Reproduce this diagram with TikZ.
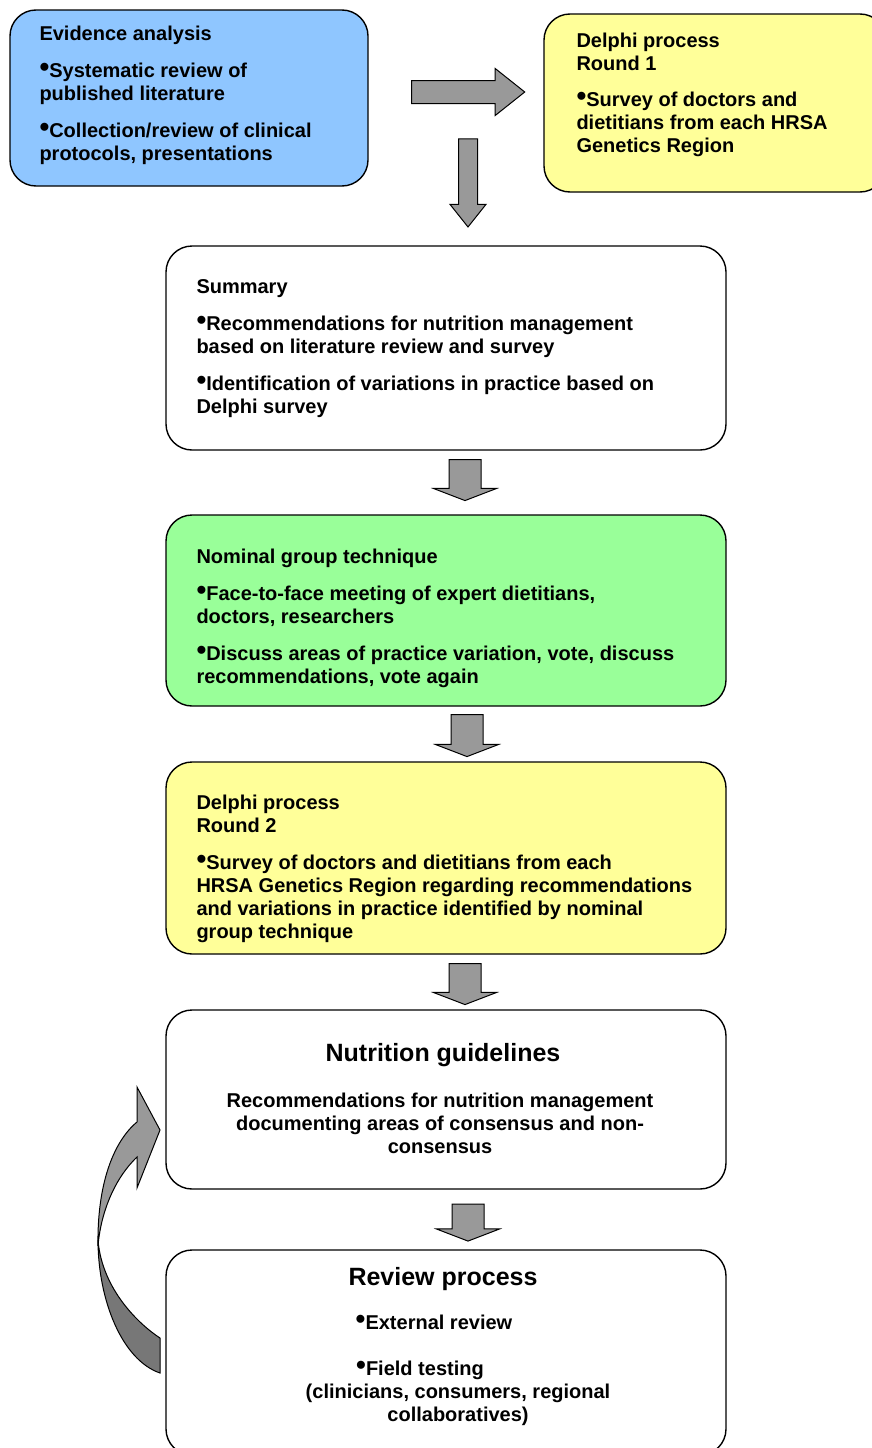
\documentclass[tikz,border=0pt]{standalone}
\usepackage{fontspec}
\setmainfont{Liberation Sans}
\usetikzlibrary{positioning,shapes.arrows}

\definecolor{evblue}{RGB}{143,198,255}
\definecolor{delyellow}{RGB}{255,255,153}
\definecolor{nomgreen}{RGB}{153,255,153}
\definecolor{arrgray}{RGB}{153,153,153}
\definecolor{backgray}{RGB}{119,119,119}

\newcommand{\bul}{\raisebox{1pt}{\fontsize{28}{23}\selectfont•}}

\tikzset{
    box/.style={draw=black, line width=1.4pt, rounded corners=26pt, inner sep=0pt},
    txt/.style={anchor=north west, align=left, inner sep=0pt, font=\bfseries\fontsize{20}{23}\selectfont},
    ctxt/.style={anchor=north, align=center, inner sep=0pt, font=\bfseries\fontsize{20}{23}\selectfont},
    ttl/.style={anchor=north, inner sep=0pt, font=\bfseries\fontsize{25}{28}\selectfont},
    blk/.style={single arrow, draw=black, fill=arrgray, line width=1pt, inner xsep=0pt, single arrow head indent=0pt},
    blkdown/.style={blk, rotate=-90, inner ysep=15.5pt, single arrow head extend=15.5pt, single arrow tip angle=138},
}

\begin{document}
\begin{tikzpicture}[x=1pt, y=-1pt]

    % Page frame
    \useasboundingbox (0,0) rectangle (872,1448);

    % Boxes
    \node[box, fill=evblue, minimum width=358pt, minimum height=176pt] (evid) at (189,98) {};
    \node[box, fill=delyellow, minimum width=342pt, minimum height=178pt] (del1) at (715,103) {};
    \node[box, fill=white, minimum width=560pt, minimum height=204pt] (sum) at (446,348) {};
    \node[box, fill=nomgreen, minimum width=560pt, minimum height=191pt] (nom) at (446,610.5) {};
    \node[box, fill=delyellow, minimum width=560pt, minimum height=192pt] (del2) at (446,858) {};
    \node[box, fill=white, minimum width=560pt, minimum height=179pt] (nut) at (446,1099.5) {};
    \node[box, fill=white, minimum width=560pt, minimum height=205pt] (rev) at (446,1352.5) {};

    % Box texts
    \node[txt, below right=17pt and 30pt of evid.north west] (evidtxt)
        {Evidence analysis\\[14pt]\bul Systematic review of\\published literature\\[14pt]\bul Collection/review of clinical\\protocols, presentations};
    \node[txt, below right=20pt and 33pt of del1.north west] (del1txt)
        {Delphi process\\Round 1\\[13pt]\bul Survey of doctors and\\dietitians from each HRSA\\Genetics Region};
    \node[txt, below right=34pt and 31pt of sum.north west] (sumtxt)
        {Summary\\[14pt]\bul Recommendations for nutrition management\\based on literature review and survey\\[14pt]\bul Identification of variations in practice based on\\Delphi survey};
    \node[txt, below right=34pt and 31pt of nom.north west] (nomtxt)
        {Nominal group technique\\[14pt]\bul Face-to-face meeting of expert dietitians,\\doctors, researchers\\[14pt]\bul Discuss areas of practice variation, vote, discuss\\recommendations, vote again};
    \node[txt, below right=33pt and 31pt of del2.north west] (del2txt)
        {Delphi process\\Round 2\\[14pt]\bul Survey of doctors and dietitians from each\\HRSA Genetics Region regarding recommendations\\and variations in practice identified by nominal\\group technique};

    \node[ttl] (nutttl) at (443,1043) {Nutrition guidelines};
    \node[ctxt] (nuttxt) at (440,1093)
        {Recommendations for nutrition management\\documenting areas of consensus and non-\\consensus};

    \node[ttl] (revttl) at (443,1267) {Review process};
    \node[ctxt] (revtxt) at (443,1315)
        {\bul External review\kern18pt\\[23pt]\bul Field testing\kern46pt\\\kern30pt(clinicians, consumers, regional\\\kern30pt collaboratives)};

    % Block arrows
    \node[blk, minimum height=113pt, inner ysep=11pt, single arrow head extend=12pt, single arrow tip angle=77] (a0) at (461,92) {};
    \node[blk, rotate=-90, minimum height=88pt, inner ysep=9pt, single arrow head extend=8.5pt, single arrow tip angle=77] (a1) at (468,177) {};
    \node[blkdown, minimum height=41pt] (a2) at (465,477) {};
    \node[blkdown, minimum height=42pt] (a3) at (467,732.5) {};
    \node[blkdown, minimum height=41pt] (a4) at (465,981) {};
    \node[blkdown, minimum height=37pt] (a5) at (468,1219.5) {};

    % Curved arrow back to the guidelines
    \filldraw[fill=backgray, line width=1pt] (98,1240) .. controls (98,1300) and (122,1360) .. (160,1373)
        -- (160,1338) .. controls (140,1325) and (102,1290) .. (98,1240) -- cycle;
    \filldraw[fill=arrgray, line width=1pt] (98,1246) .. controls (97,1185) and (113,1142) .. (137,1122)
        -- (137,1087) -- (160,1130) -- (137,1188) -- (137,1157)
        .. controls (116,1177) and (101,1210) .. (98,1246) -- cycle;

\end{tikzpicture}
\end{document}
